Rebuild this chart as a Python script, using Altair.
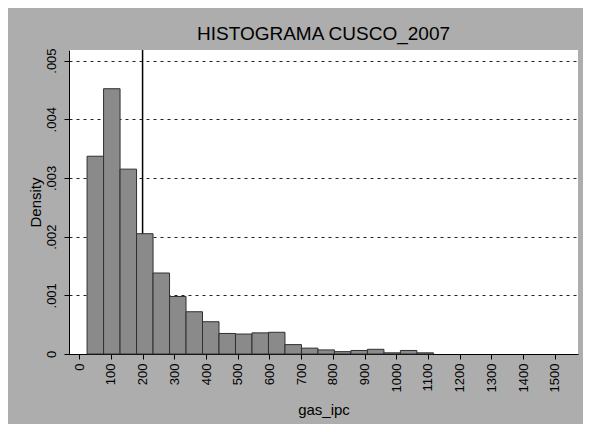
import altair as alt
import pandas as pd

# Histogram bins (lower/upper edges) of gas_ipc, bin width ~52
bin_lo = [25, 77, 129, 181, 233, 285, 337, 389, 441, 493, 545, 597, 649, 701,
          753, 805, 857, 909, 961, 1013, 1065]
bin_hi = [77, 129, 181, 233, 285, 337, 389, 441, 493, 545, 597, 649, 701, 753,
          805, 857, 909, 961, 1013, 1065, 1117]
density = [0.00337, 0.00452, 0.00315, 0.00205, 0.00138, 0.00098, 0.00072,
           0.00055, 0.00035, 0.00034, 0.00036, 0.00037, 0.00016, 0.00010,
           0.00007, 0.00004, 0.00006, 0.00008, 0.00002, 0.00006, 0.00002]

x_ticks = [0, 100, 200, 300, 400, 500, 600, 700, 800, 900, 1000, 1100, 1200,
           1300, 1400, 1500]
y_ticks = [0, 0.001, 0.002, 0.003, 0.004, 0.005]
xline = [200]

FONT = "Liberation Sans"

df = pd.DataFrame({"lo": bin_lo, "hi": bin_hi, "density": density})
rule_df = pd.DataFrame({"x": xline})

x_scale = alt.Scale(domain=[-32, 1573], nice=False, zero=False)
y_scale = alt.Scale(domain=[0, 0.00518], nice=False)

x_axis = alt.Axis(values=x_ticks, format="d", labelAngle=270, labelAlign="right",
                  labelBaseline="middle", labelPadding=4, tickSize=5,
                  grid=False, title="gas_ipc", titleFontSize=15,
                  titleFont=FONT, titleFontWeight="normal", titleY=60,
                  titleBaseline="alphabetic", labelFontSize=13, labelFont=FONT,
                  labelColor="black", domainColor="black", tickColor="black",
                  labelFlush=False, labelOverlap=False)
y_axis = alt.Axis(values=y_ticks, labelAngle=270, labelAlign="center",
                  labelBaseline="bottom", labelPadding=6, tickSize=5,
                  grid=True, gridDash=[3, 4], gridColor="#222222",
                  gridWidth=1, title="Density", titleFontSize=15,
                  titleFont=FONT, titleFontWeight="normal", titleX=-29,
                  titleBaseline="alphabetic", labelFontSize=13, labelFont=FONT,
                  labelColor="black", domainColor="black", tickColor="black",
                  labelExpr="datum.value == 0 ? '0' : replace(format(datum.value, '.3f'), '0.', '.')",
                  labelFlush=False, labelOverlap=False)

rule = alt.Chart(rule_df).mark_rule(color="black", strokeWidth=1.5).encode(
    x=alt.X("x:Q", scale=x_scale, axis=x_axis)
)

bars = alt.Chart(df).mark_rect(color="#8a8a8a", stroke="#303030",
                               strokeWidth=1).encode(
    x=alt.X("lo:Q", scale=x_scale, axis=x_axis),
    x2="hi:Q",
    y=alt.Y("density:Q", scale=y_scale, axis=y_axis),
    y2=alt.Y2(datum=0),
)

chart = alt.layer(rule, bars).properties(
    width=509,
    height=304,
    autosize=alt.AutoSizeParams(type="none"),
    padding={"left": 61, "top": 42, "right": 5, "bottom": 70},
    title=alt.TitleParams("HISTOGRAMA CUSCO_2007", fontSize=19, font=FONT,
                          fontWeight="normal", anchor="middle", frame="group",
                          baseline="alphabetic", offset=8, dy=19,
                          color="black"),
    background="#adadad",
).configure_view(fill="white", stroke=None)

chart.save("out.html", embed_options={"renderer": "svg", "actions": False})
